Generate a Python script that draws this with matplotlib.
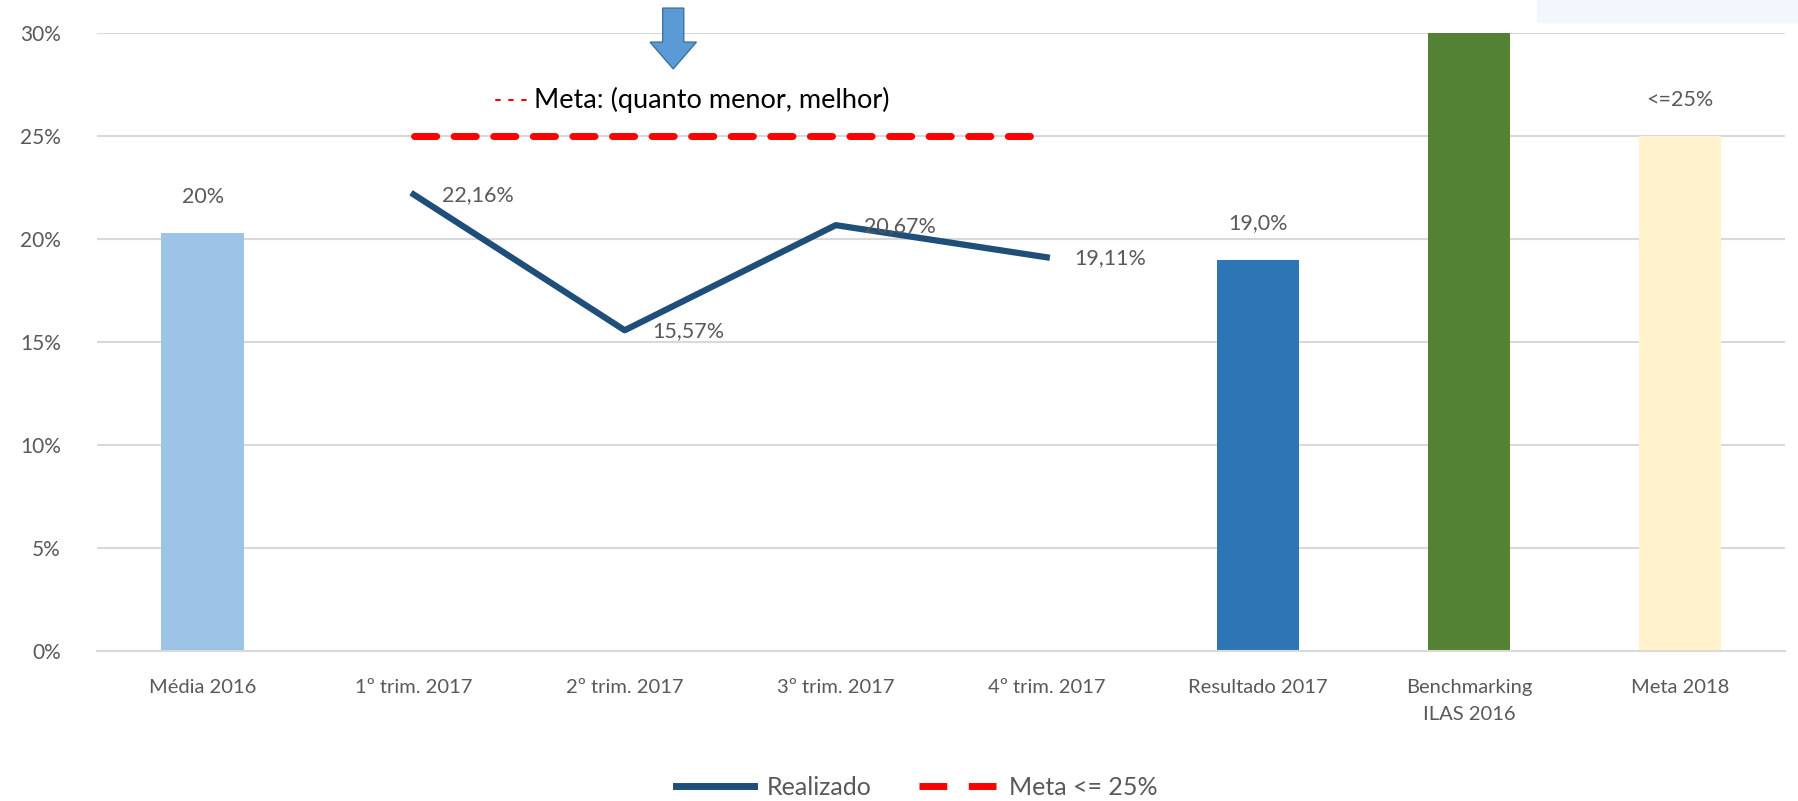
import matplotlib.pyplot as plt
from matplotlib.patches import FancyArrow, Rectangle
from matplotlib.lines import Line2D

plt.rcParams['font.family'] = ['Lato', 'DejaVu Sans']

# data
categories = ['Média 2016', '1º trim. 2017', '2º trim. 2017', '3º trim. 2017',
              '4º trim. 2017', 'Resultado 2017', 'Benchmarking\nILAS 2016', 'Meta 2018']
bar_pos = [0, 5, 6, 7]
bar_vals = [20.3, 19.0, 30.0, 25.0]
bar_labels = ['20%', '19,0%', '', '<=25%']
bar_colors = ['#9DC3E6', '#2E75B6', '#548235', '#FFF2CC']
line_pos = [1, 2, 3, 4]
line_vals = [22.16, 15.57, 20.67, 19.11]
line_labels = ['22,16%', '15,57%', '20,67%', '19,11%']
meta_vals = [25, 25, 25, 25]

fig = plt.figure(figsize=(17.98, 8.01), dpi=100)
ax = fig.add_axes([0.054, 0.187, 0.939, 0.772])

# faint background band top right
fig.add_artist(Rectangle((0.855, 0.972), 0.145, 0.028, transform=fig.transFigure,
                         color='#F1F7FC', zorder=0))

ax.bar(bar_pos, bar_vals, width=0.39, color=bar_colors, zorder=2)
for x, v, t in zip(bar_pos, bar_vals, bar_labels):
    if t:
        ax.annotate(t, (x, v), xytext=(0, 36), textcoords='offset pixels',
                    ha='center', va='center', fontsize=15.5, color='#595959')

ax.plot(line_pos, meta_vals, color='#FF0000', lw=5, dashes=(3.2, 2.5),
        solid_capstyle='round', dash_capstyle='round', zorder=3)
ax.plot(line_pos, line_vals, color='#1F4E79', lw=4.5, zorder=4)
for x, v, t in zip(line_pos, line_vals, line_labels):
    ax.annotate(t, (x, v), xytext=(28, -1), textcoords='offset pixels',
                ha='left', va='center', fontsize=15.5, color='#595959', zorder=5)

ax.set_xlim(-0.5, 7.5)
ax.set_ylim(0, 30)
ax.set_yticks(range(0, 31, 5))
ax.set_yticklabels([f'{v}%' for v in range(0, 31, 5)])
ax.set_xticks(range(len(categories)))
ax.set_xticklabels(categories, linespacing=1.7)
ax.tick_params(axis='y', length=0, pad=26, labelsize=15, labelcolor='#595959')
ax.tick_params(axis='x', length=0, pad=20, labelsize=14.5, labelcolor='#595959')
ax.grid(axis='y', color='#D9D9D9', lw=1.5, zorder=0)
ax.set_axisbelow(True)
for s in ['top', 'right', 'left']:
    ax.spines[s].set_visible(False)
ax.spines['bottom'].set_color('#D9D9D9')
ax.spines['bottom'].set_linewidth(1.5)

# annotation and arrow
ax.text(1.38, 26.75, '- - -', color='#FF0000', fontsize=15, ha='left', va='center',
        fontweight='bold')
ax.text(1.57, 26.75, 'Meta: (quanto menor, melhor)', color='black', fontsize=19.5,
        ha='left', va='center')
ax.add_patch(FancyArrow(2.23, 31.2, 0, -2.95, width=0.1, head_width=0.22,
                        head_length=1.3, length_includes_head=True,
                        fc='#5B9BD5', ec='#41719C', lw=1, clip_on=False, zorder=6))

handles = [Line2D([], [], color='#1F4E79', lw=5),
           Line2D([], [], color='#FF0000', lw=5, dashes=(4, 3.1))]
fig.legend(handles, ['Realizado', 'Meta <= 25%'], loc='lower center',
           bbox_to_anchor=(0.51, -0.025), ncol=2, frameon=False, fontsize=18,
           handlelength=3.1, handletextpad=0.5, columnspacing=1.9,
           labelcolor='#595959')

fig.savefig('out.png', dpi=100)
